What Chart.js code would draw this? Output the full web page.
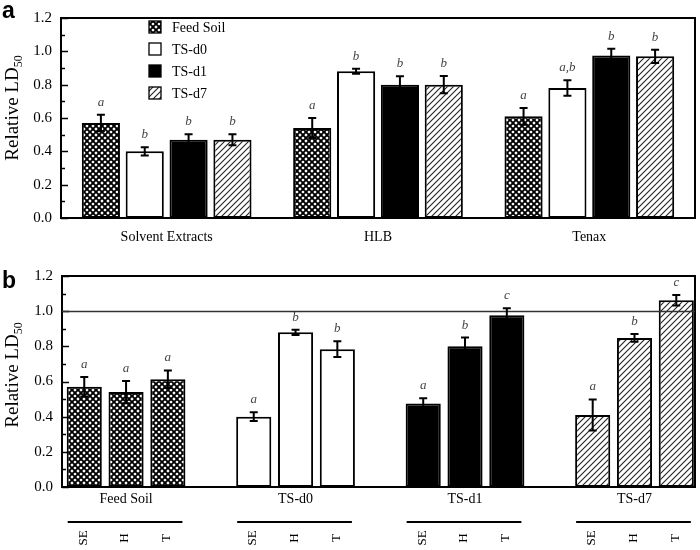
<!DOCTYPE html>
<html><head><meta charset="utf-8">
<script src="https://cdn.jsdelivr.net/npm/chart.js@4/dist/chart.umd.min.js"></script>
<style>
html,body{margin:0;padding:0;background:#fff;}
#wrap{position:relative;width:700px;height:550px;background:#fff;}
#ca{position:absolute;left:0;top:0;}
#cb{position:absolute;left:0;top:258px;}
</style></head><body>
<div id="wrap">
<canvas id="ca" width="700" height="258"></canvas>
<canvas id="cb" width="700" height="292"></canvas>
</div>
<script>
// ---------- DATA ----------
const seriesNames = ['Feed Soil', 'TS-d0', 'TS-d1', 'TS-d7'];
const groupsA = ['Solvent Extracts', 'HLB', 'Tenax'];
const feedSoilA = [0.57, 0.54, 0.61];
const feedSoilAErr = [0.05, 0.06, 0.05];
const tsd0A = [0.40, 0.88, 0.78];
const tsd0AErr = [0.025, 0.015, 0.047];
const tsd1A = [0.47, 0.80, 0.975];
const tsd1AErr = [0.032, 0.05, 0.04];
const tsd7A = [0.47, 0.80, 0.97];
const tsd7AErr = [0.033, 0.052, 0.04];
const lettersA = [['a', 'a', 'a'], ['b', 'b', 'a,b'], ['b', 'b', 'b'], ['b', 'b', 'b']];

const groupsB = ['Feed Soil', 'TS-d0', 'TS-d1', 'TS-d7'];
const groupPosB = [0, 1, 2, 3];
const subLabels = ['SE', 'H', 'T'];
const seB = [0.57, 0.40, 0.475, 0.41];
const seBErr = [0.055, 0.025, 0.03, 0.088];
const hB = [0.54, 0.88, 0.80, 0.848];
const hBErr = [0.063, 0.015, 0.05, 0.022];
const tB = [0.613, 0.784, 0.977, 1.062];
const tBErr = [0.05, 0.045, 0.04, 0.03];
const lettersB = [['a', 'a', 'a', 'a'], ['a', 'b', 'b', 'b'], ['a', 'b', 'c', 'c']];
const yTicks = [0, 0.2, 0.4, 0.6, 0.8, 1.0, 1.2];
const refLineValue = 1.0;

// ---------- STYLES ----------
const SERIF = '"Liberation Serif", "Times New Roman", serif';
function makeCross() {
  const c = document.createElement('canvas'); c.width = 6; c.height = 6;
  const x = c.getContext('2d');
  x.fillStyle = '#fff'; x.fillRect(0, 0, 6, 6);
  x.strokeStyle = '#000'; x.lineWidth = 1.9; x.beginPath();
  for (const k of [-6, 0, 6]) {
    x.moveTo(k - 1, -1); x.lineTo(k + 7, 7);
    x.moveTo(k - 1, 7); x.lineTo(k + 7, -1);
  }
  x.stroke();
  return x.createPattern(c, 'repeat');
}
function makeHatch() {
  const c = document.createElement('canvas'); c.width = 6; c.height = 6;
  const x = c.getContext('2d');
  x.fillStyle = '#fff'; x.fillRect(0, 0, 6, 6);
  x.strokeStyle = '#222'; x.lineWidth = 1.1; x.beginPath();
  for (const k of [-6, 0, 6]) { x.moveTo(k - 1, 7); x.lineTo(k + 7, -1); }
  x.stroke();
  return x.createPattern(c, 'repeat');
}
const fills = [makeCross(), '#ffffff', '#000000', makeHatch()];

// ---------- SHARED PLUGINS ----------
function frameAndTicks(chart) {
  const ctx = chart.ctx, a = chart.chartArea, ys = chart.scales.y;
  ctx.save();
  ctx.strokeStyle = '#000'; ctx.lineWidth = 2;
  ctx.strokeRect(a.left, a.top, a.right - a.left, a.bottom - a.top);
  ctx.lineWidth = 1.5;
  for (let i = 0; i <= 12; i++) {
    const y = Math.round(ys.getPixelForValue(i / 10)) + 0.5;
    const len = (i % 2 === 0) ? 7 : 4;
    ctx.beginPath(); ctx.moveTo(a.left, y); ctx.lineTo(a.left + len, y); ctx.stroke();
  }
  ctx.restore();
}
function drawYTitle(chart, cx, cy) {
  const ctx = chart.ctx;
  ctx.save();
  ctx.translate(cx, cy); ctx.rotate(-Math.PI / 2);
  ctx.fillStyle = '#000';
  const main = 'Relative LD';
  ctx.font = '12px ' + SERIF; const ws = ctx.measureText('50').width;
  ctx.font = '19px ' + SERIF; const wm = ctx.measureText(main).width;
  const start = -(wm + ws) / 2;
  ctx.textBaseline = 'alphabetic'; ctx.textAlign = 'left';
  ctx.fillText(main, start, 0);
  ctx.font = '12px ' + SERIF;
  ctx.fillText('50', start + wm, 4);
  ctx.restore();
}
function drawPanelLetter(chart, txt, x, y) {
  const ctx = chart.ctx;
  ctx.save(); ctx.fillStyle = '#000';
  ctx.font = 'bold 23px "Liberation Sans", Arial, sans-serif';
  ctx.textBaseline = 'alphabetic'; ctx.textAlign = 'left';
  ctx.fillText(txt, x, y);
  ctx.restore();
}
function drawErrorsAndLetters(chart, errs, letters) {
  const ctx = chart.ctx, ys = chart.scales.y;
  ctx.save();
  chart.data.datasets.forEach((ds, di) => {
    const meta = chart.getDatasetMeta(di);
    meta.data.forEach((el, i) => {
      const raw = ds.data[i];
      const v = (typeof raw === 'object') ? raw.y : raw;
      const e = errs[di][i];
      const yT = ys.getPixelForValue(v + e), yB = ys.getPixelForValue(v - e);
      ctx.strokeStyle = '#000'; ctx.lineWidth = 2;
      ctx.beginPath();
      ctx.moveTo(el.x, yT); ctx.lineTo(el.x, yB);
      ctx.moveTo(el.x - 4, yT); ctx.lineTo(el.x + 4, yT);
      ctx.moveTo(el.x - 4, yB); ctx.lineTo(el.x + 4, yB);
      ctx.stroke();
      ctx.fillStyle = '#444';
      ctx.font = 'italic 13px ' + SERIF;
      ctx.textAlign = 'center'; ctx.textBaseline = 'alphabetic';
      ctx.fillText(letters[di][i], el.x, yT - 9);
    });
  });
  ctx.restore();
}

const yScaleBase = (w) => ({
  min: 0, max: 1.2,
  afterBuildTicks: (s) => { s.ticks = yTicks.map(v => ({ value: v })); },
  ticks: { callback: (v) => Number(v).toFixed(1), color: '#000', font: { family: SERIF, size: 15 }, padding: 9 },
  grid: { display: false, drawTicks: false },
  border: { display: false },
  afterFit: (s) => { s.width = w; }
});

// ---------- PANEL A ----------
new Chart(document.getElementById('ca'), {
  type: 'bar',
  data: {
    labels: groupsA,
    datasets: [feedSoilA, tsd0A, tsd1A, tsd7A].map((d, i) => ({
      label: seriesNames[i], data: d,
      backgroundColor: fills[i], borderColor: '#000', borderWidth: 2, borderSkipped: false,
      categoryPercentage: 0.83, barPercentage: 0.87
    }))
  },
  options: {
    responsive: false, animation: false,
    layout: { padding: { left: 0, right: 5, top: 9, bottom: 0 } },
    plugins: { legend: { display: false }, tooltip: { enabled: false } },
    scales: {
      x: {
        ticks: { color: '#000', font: { family: SERIF, size: 14 }, padding: 11 },
        grid: { display: false, drawTicks: false }, border: { display: false },
        afterFit: (s) => { s.height = 40; }
      },
      y: yScaleBase(61)
    }
  },
  plugins: [{
    id: 'decorA',
    afterDatasetsDraw(chart) {
      frameAndTicks(chart);
      drawErrorsAndLetters(chart, [feedSoilAErr, tsd0AErr, tsd1AErr, tsd7AErr], lettersA);
      const ctx = chart.ctx;
      ctx.save();
      seriesNames.forEach((n, i) => {
        const cy = 27 + i * 22;
        ctx.fillStyle = fills[i];
        ctx.fillRect(149, cy - 6, 12, 12);
        ctx.strokeStyle = '#000'; ctx.lineWidth = 1.3;
        ctx.strokeRect(149, cy - 6, 12, 12);
        ctx.fillStyle = '#000'; ctx.font = '14px ' + SERIF;
        ctx.textAlign = 'left'; ctx.textBaseline = 'middle';
        ctx.fillText(n, 172, cy + 1);
      });
      ctx.restore();
    },
    afterDraw(chart) {
      drawYTitle(chart, 18, 108);
      drawPanelLetter(chart, 'a', 2, 18);
    }
  }]
});

// ---------- PANEL B ----------
const xMinB = -0.378, xMaxB = 3.357;
new Chart(document.getElementById('cb'), {
  type: 'bar',
  data: {
    datasets: [seB, hB, tB].map((d, di) => ({
      label: subLabels[di],
      data: d.map((v, i) => ({ x: groupPosB[i], y: v })),
      backgroundColor: groupsB.map((g, i) => fills[i]),
      borderColor: '#000', borderWidth: 2, borderSkipped: false,
      categoryPercentage: 0.74, barPercentage: 0.84
    }))
  },
  options: {
    responsive: false, animation: false,
    layout: { padding: { left: 0, right: 5, top: 16, bottom: 0 } },
    plugins: { legend: { display: false }, tooltip: { enabled: false } },
    scales: {
      x: {
        type: 'linear', min: xMinB, max: xMaxB, bounds: 'data', offset: false, grace: 0,
        afterDataLimits: (s) => { s.min = xMinB; s.max = xMaxB; },
        afterBuildTicks: (s) => { s.ticks = groupPosB.map(v => ({ value: v })); s.min = xMinB; s.max = xMaxB; },
        ticks: { autoSkip: false, maxRotation: 0, callback: (v) => groupsB[groupPosB.indexOf(v)] || '', color: '#000', font: { family: SERIF, size: 14 }, padding: 4 },
        grid: { display: false, drawTicks: false, offset: false }, border: { display: false },
        afterFit: (s) => { s.height = 63; }
      },
      y: yScaleBase(62)
    }
  },
  plugins: [{
    id: 'decorB',
    afterDatasetsDraw(chart) {
      const ctx = chart.ctx, a = chart.chartArea, ys = chart.scales.y;
      frameAndTicks(chart);
      ctx.save();
      const yr = Math.round(ys.getPixelForValue(refLineValue)) + 0.5;
      ctx.strokeStyle = '#333'; ctx.lineWidth = 1.5;
      ctx.beginPath(); ctx.moveTo(a.left, yr); ctx.lineTo(a.right, yr); ctx.stroke();
      ctx.restore();
      drawErrorsAndLetters(chart, [seBErr, hBErr, tBErr], lettersB);
    },
    afterDraw(chart) {
      const ctx = chart.ctx;
      const m0 = chart.getDatasetMeta(0), m2 = chart.getDatasetMeta(2);
      ctx.save();
      ctx.strokeStyle = '#000'; ctx.lineWidth = 2;
      groupsB.forEach((g, i) => {
        const l = m0.data[i].x - m0.data[i].width / 2 + 1;
        const r = m2.data[i].x + m2.data[i].width / 2 - 3;
        ctx.beginPath(); ctx.moveTo(l, 264); ctx.lineTo(r, 264); ctx.stroke();
      });
      ctx.fillStyle = '#000'; ctx.font = '13px ' + SERIF;
      chart.data.datasets.forEach((ds, di) => {
        chart.getDatasetMeta(di).data.forEach((el) => {
          ctx.save();
          ctx.translate(el.x - 1, 280); ctx.rotate(-Math.PI / 2);
          ctx.textAlign = 'center'; ctx.textBaseline = 'middle';
          ctx.fillText(subLabels[di], 0, 0);
          ctx.restore();
        });
      });
      ctx.restore();
      drawYTitle(chart, 18, 117);
      drawPanelLetter(chart, 'b', 2, 30);
    }
  }]
});
</script>
</body></html>
